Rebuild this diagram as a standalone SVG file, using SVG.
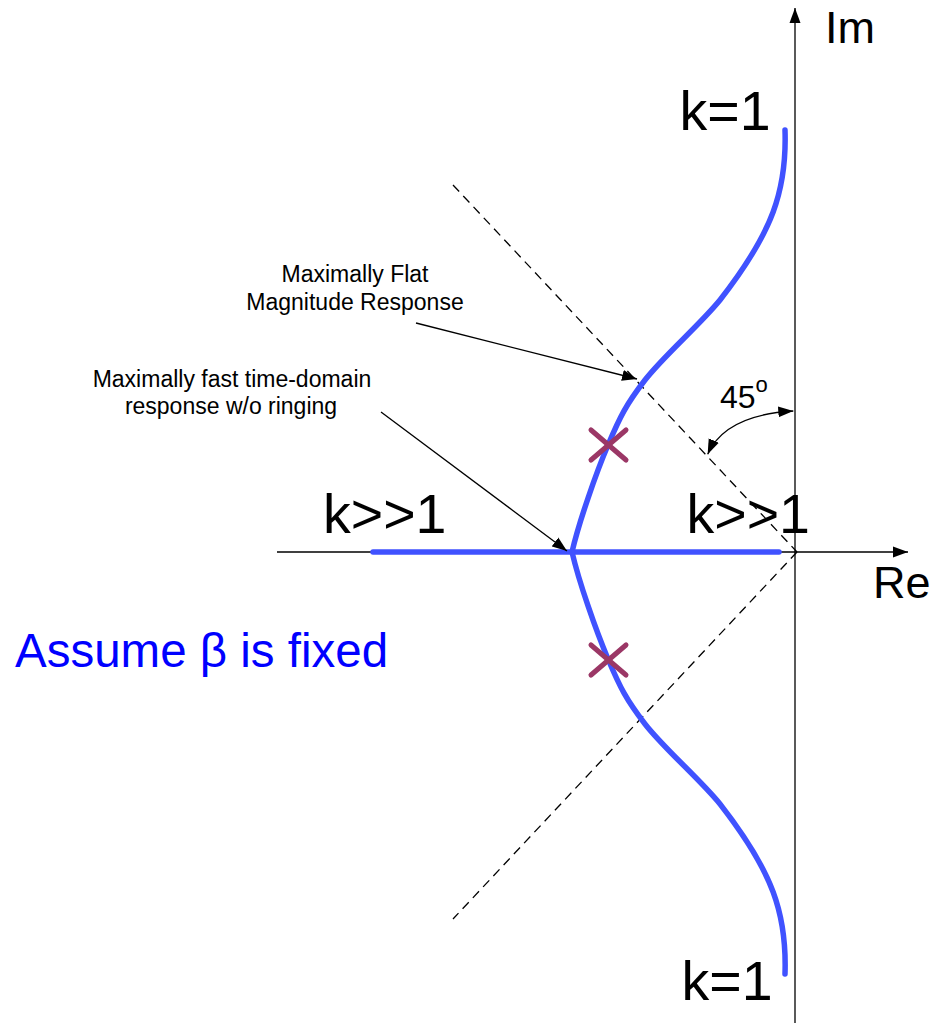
<svg xmlns="http://www.w3.org/2000/svg" width="934" height="1023" viewBox="0 0 934 1023">
<style>
text{font-family:"Liberation Sans",Arial,sans-serif;fill:#000}
.big{font-size:55.5px}
.ax{font-size:45px}
.note{font-size:23px;text-anchor:middle}
.thin{stroke:#000;stroke-width:1.3;fill:none}
.dash{stroke:#000;stroke-width:1.3;fill:none;stroke-dasharray:9 6}
.locus{stroke:#4052ff;stroke-width:5.5;fill:none;stroke-linecap:round;stroke-linejoin:miter}
.pole{stroke:#9b3766;stroke-width:5;stroke-linecap:round}
</style>
<defs>
<marker id="ah" markerUnits="userSpaceOnUse" markerWidth="16" markerHeight="12" refX="15" refY="5.5" orient="auto-start-reverse" viewBox="0 0 16 11">
<path d="M0,0 L15,5.5 L0,11 Z" fill="#000"/>
</marker>
</defs>
<rect width="934" height="1023" fill="#fff"/>
<g id="axes">
<line class="thin" x1="795" y1="1023" x2="795" y2="8" marker-end="url(#ah)"/>
<line class="thin" x1="277" y1="552" x2="908" y2="552" marker-end="url(#ah)"/>
<text class="ax" x="825" y="43">Im</text>
<text class="ax" x="873" y="598">Re</text>
</g>
<g id="asymptotes">
<line class="dash" x1="453" y1="185" x2="797" y2="552"/>
<line class="dash" x1="797" y1="552" x2="453" y2="919"/>
</g>
<g id="locus">
<line class="locus" x1="373" y1="552" x2="779" y2="552"/>
<path class="locus" d="M785,130 C787,190 773,232 720,300 C699.7,325 663.7,355.8 645,380 C626.3,404.2 620.2,416.3 608,445 C595.8,473.7 579,522 572,552"/>
<path class="locus" d="M572,552 C579,582 595.8,630.3 608,659 C620.2,687.7 626.3,699.8 645,724 C663.7,748.2 699.7,779 720,804 C773,872 787,914 785,974"/>
</g>
<g id="poles">
<line class="pole" x1="591" y1="430" x2="626" y2="460"/>
<line class="pole" x1="591" y1="460" x2="626" y2="430"/>
<line class="pole" x1="591" y1="645" x2="626" y2="675"/>
<line class="pole" x1="591" y1="675" x2="626" y2="645"/>
</g>
<g id="labels">
<text class="big" x="679.5" y="130">k=1</text>
<text class="big" x="681.5" y="1000">k=1</text>
<text class="big" x="323" y="533">k&gt;&gt;1</text>
<text class="big" x="686.5" y="533">k&gt;&gt;1</text>
<text x="720" y="408" font-size="32">45<tspan font-size="22" dy="-16">o</tspan></text>
<text x="15" y="667" font-size="47.5" style="fill:#0000ff">Assume β is fixed</text>
</g>
<g id="note-flat">
<text class="note" x="355" y="282">Maximally Flat</text>
<text class="note" x="355" y="310">Magnitude Response</text>
</g>
<g id="note-fast">
<text class="note" x="232" y="387">Maximally fast time-domain</text>
<text class="note" x="231" y="414">response w/o ringing</text>
</g>
<g id="connectors">
<line class="thin" x1="416" y1="323" x2="637" y2="379" marker-end="url(#ah)"/>
<line class="thin" x1="381" y1="412" x2="567" y2="551" marker-end="url(#ah)"/>
<path class="thin" d="M707.7,454.3 Q725,415 793.3,411" marker-start="url(#ah)" marker-end="url(#ah)"/>
</g>
</svg>
